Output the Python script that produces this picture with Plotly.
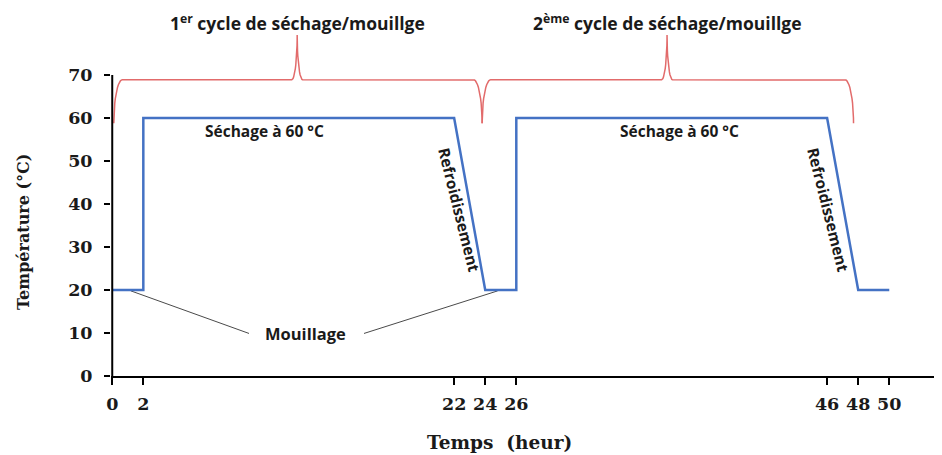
import numpy as np
import plotly.graph_objects as go

# ---- data ----
time_h = [0, 2, 2, 22, 24, 26, 26, 46, 48, 50]
temp_c = [20, 20, 60, 60, 20, 20, 60, 60, 20, 20]
x_ticks = [0, 2, 22, 24, 26, 46, 48, 50]
y_ticks = [0, 10, 20, 30, 40, 50, 60, 70]

cycle_labels = ["1<sup>er</sup> cycle de séchage/mouillge",
                "2<sup>ème</sup> cycle de séchage/mouillge"]
brace_start = [0.1, 23.8]
brace_end = [23.8, 47.7]
brace_peak = [11.9, 35.7]
brace_low, brace_mid, brace_top = 58.8, 68.9, 79.3
label_y = 82.2

drying_label = "Séchage à 60 °C"
drying_x = [9.8, 36.5]
drying_y = 57.0
cooling_label = "Refroidissement"
cooling_x = [22.35, 46.1]
cooling_y = 38.7
wetting_label = "Mouillage"
wetting_xy = (12.45, 10.0)
wetting_ptr_a = ([1.2, 8.8], [19.8, 9.9])
wetting_ptr_b = ([16.2, 24.8], [9.9, 19.8])

BLUE = "#4472C4"
RED = "#E26B6B"
SANS = "'Open Sans', sans-serif"
SERIF = "'DejaVu Serif', serif"
TXT = "#1a1a1a"


def brace(x0, x1, xp, lo, mid, top, rx=0.55, cx=0.35, n=14):
    t = np.linspace(0, np.pi / 2, n)
    xs, ys = [], []
    xs += list(x0 + rx * (1 - np.cos(t)))
    ys += list(lo + (mid - lo) * np.sin(t))
    xs += list(xp - cx + cx * np.sin(t))
    ys += list(mid + (top - mid) * (1 - np.cos(t)))
    xs += list((xp + cx - cx * np.sin(t))[::-1])
    ys += list((mid + (top - mid) * (1 - np.cos(t)))[::-1])
    xs += list((x1 - rx * (1 - np.cos(t)))[::-1])
    ys += list((lo + (mid - lo) * np.sin(t))[::-1])
    return xs, ys


fig = go.Figure()

for i in range(2):
    bx, by = brace(brace_start[i], brace_end[i], brace_peak[i],
                   brace_low, brace_mid, brace_top)
    fig.add_trace(go.Scatter(x=bx, y=by, mode="lines",
                             line=dict(color=RED, width=1.5),
                             hoverinfo="skip", showlegend=False))

for px, py in (wetting_ptr_a, wetting_ptr_b):
    fig.add_trace(go.Scatter(x=px, y=py, mode="lines",
                             line=dict(color="#4a4a4a", width=1),
                             hoverinfo="skip", showlegend=False))

fig.add_trace(go.Scatter(x=time_h, y=temp_c, mode="lines",
                         line=dict(color=BLUE, width=2.5),
                         showlegend=False))

fig.add_trace(go.Scatter(x=[0, 0], y=[0, 70], mode="lines",
                         line=dict(color="black", width=2),
                         hoverinfo="skip", showlegend=False))

ann = []
for i in range(2):
    ann.append(dict(x=brace_peak[i], y=label_y, text=cycle_labels[i],
                    showarrow=False, xref="x", yref="y",
                    font=dict(family=SANS, size=17.5, color=TXT, weight="bold")))
    ann.append(dict(x=drying_x[i], y=drying_y, text=drying_label,
                    showarrow=False, xref="x", yref="y",
                    font=dict(family=SANS, size=15.5, color=TXT, weight="bold")))
    ann.append(dict(x=cooling_x[i], y=cooling_y, text=cooling_label,
                    showarrow=False, xref="x", yref="y", textangle=76,
                    font=dict(family=SANS, size=15.5, color=TXT, weight="bold")))
ann.append(dict(x=wetting_xy[0], y=wetting_xy[1], text=wetting_label,
                showarrow=False, xref="x", yref="y",
                font=dict(family=SANS, size=16.5, color=TXT, weight="bold")))
ann.append(dict(x=24.9, y=-0.182, text="Temps  (heur)", showarrow=False,
                xref="x", yref="paper", xanchor="center", yanchor="middle",
                font=dict(family=SERIF, size=18.5, color=TXT, weight="bold")))
ann.append(dict(x=-0.105, y=33.5, text="Température (°C)", showarrow=False,
                xref="paper", yref="y", textangle=-90,
                xanchor="center", yanchor="middle",
                font=dict(family=SERIF, size=16, color=TXT, weight="bold")))

fig.update_layout(
    width=934, height=447,
    margin=dict(l=103, r=3, t=0, b=79, autoexpand=False),
    plot_bgcolor="white", paper_bgcolor="white",
    annotations=ann,
    xaxis=dict(range=[-0.08, 53.2], showgrid=False, zeroline=False,
               showline=True, linecolor="black", linewidth=2,
               tickmode="array", tickvals=x_ticks,
               ticktext=[str(v) for v in x_ticks],
               ticks="outside", ticklen=7, tickwidth=2, tickcolor="black",
               ticklabelstandoff=4,
               tickfont=dict(family=SERIF, size=17.5, color=TXT, weight="bold")),
    yaxis=dict(range=[0, 85.6], showgrid=False, zeroline=False, showline=False,
               tickmode="array", tickvals=y_ticks,
               ticktext=[str(v) for v in y_ticks],
               ticks="outside", ticklen=6, tickwidth=2, tickcolor="black",
               ticklabelstandoff=8,
               tickfont=dict(family=SERIF, size=17.5, color=TXT, weight="bold")),
)

fig.write_html("out.html")
